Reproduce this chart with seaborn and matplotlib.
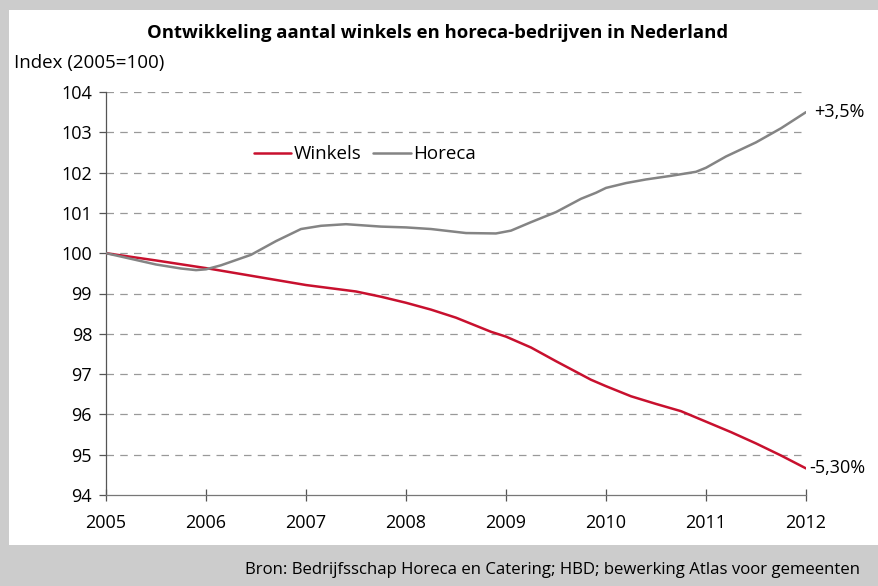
import matplotlib
matplotlib.use("Agg")
import matplotlib.pyplot as plt
from matplotlib.patches import Rectangle
import seaborn as sns
import pandas as pd

sns.set_theme(style="white")
plt.rcParams["font.family"] = ["Open Sans", "DejaVu Sans"]
plt.rcParams["text.color"] = "black"
plt.rcParams["xtick.color"] = "black"
plt.rcParams["ytick.color"] = "black"

# Index series (2005 = 100)
winkels_years = [2005.0, 2005.5, 2006.0, 2006.5, 2007.0, 2007.5, 2007.75, 2008.0,
                 2008.25, 2008.5, 2008.85, 2009.0, 2009.25, 2009.5, 2009.85, 2010.0,
                 2010.25, 2010.5, 2010.75, 2011.0, 2011.25, 2011.5, 2011.75, 2012.0]
winkels = [100.0, 99.82, 99.63, 99.42, 99.21, 99.05, 98.92, 98.77,
           98.60, 98.40, 98.05, 97.93, 97.66, 97.32, 96.86, 96.70,
           96.45, 96.26, 96.08, 95.82, 95.56, 95.28, 94.98, 94.66]

horeca_years = [2005.0, 2005.25, 2005.5, 2005.75, 2005.9, 2006.0, 2006.15, 2006.45,
                2006.7, 2006.95, 2007.15, 2007.4, 2007.75, 2008.0, 2008.25, 2008.6,
                2008.9, 2009.05, 2009.25, 2009.5, 2009.75, 2009.9, 2010.0, 2010.2,
                2010.4, 2010.65, 2010.9, 2011.0, 2011.2, 2011.5, 2011.75, 2012.0]
horeca = [100.0, 99.86, 99.72, 99.62, 99.58, 99.60, 99.70, 99.96,
          100.30, 100.60, 100.68, 100.72, 100.66, 100.64, 100.60, 100.50,
          100.49, 100.56, 100.77, 101.02, 101.35, 101.50, 101.62, 101.74,
          101.83, 101.92, 102.02, 102.12, 102.40, 102.75, 103.10, 103.50]

labels = ["Winkels", "Horeca"]
colors = ["#c8102e", "#848484"]
end_labels = ["-5,30%", "+3,5%"]
x_ticks = [2005, 2006, 2007, 2008, 2009, 2010, 2011, 2012]
y_ticks = [94, 95, 96, 97, 98, 99, 100, 101, 102, 103, 104]

df = pd.concat([
    pd.DataFrame({"jaar": winkels_years, "index": winkels, "reeks": labels[0]}),
    pd.DataFrame({"jaar": horeca_years, "index": horeca, "reeks": labels[1]}),
])

fig = plt.figure(figsize=(8.79, 5.86), dpi=100, facecolor="#cccccc")
# white panel on the grey frame, kept underneath the axes
fig.patches.append(Rectangle((9 / 879, 1 - 545 / 586), 1, (545 - 10) / 586,
                             transform=fig.transFigure, facecolor="white",
                             edgecolor="none", zorder=-5))

ax = fig.add_axes([106 / 879, 1 - 495 / 586, 700 / 879, 403 / 586])
ax.set_facecolor("none")

sns.lineplot(data=df, x="jaar", y="index", hue="reeks", hue_order=labels,
             palette=colors, linewidth=1.8, ax=ax, sort=False, zorder=3)
for line in ax.get_lines():
    line.set_solid_joinstyle("round")

ax.set_xlim(2005, 2012)
ax.set_ylim(94, 104)
ax.set_xticks(x_ticks)
ax.set_xticklabels([str(t) for t in x_ticks])
ax.set_yticks(y_ticks)
ax.set_xlabel("")
ax.set_ylabel("")

for y in y_ticks[1:]:
    ax.axhline(y, color="#999999", linewidth=0.9, linestyle=(0, (6, 5)), zorder=1)

for side in ["top", "right"]:
    ax.spines[side].set_visible(False)
ax.spines["left"].set_color("#555555")
ax.spines["bottom"].set_color("#777777")
ax.spines["left"].set_linewidth(0.9)
ax.spines["bottom"].set_linewidth(0.9)

ax.tick_params(axis="x", direction="inout", length=9, width=0.9, color="#555555",
               labelsize=13, pad=9, bottom=True, labelcolor="black")
ax.tick_params(axis="y", direction="out", length=5, width=0.9, color="#555555",
               labelsize=13, pad=5, left=True, labelcolor="black")

leg = ax.legend(loc="center", bbox_to_anchor=(0.37, 0.845), ncol=2, frameon=False,
                fontsize=13.5, handlelength=2.0, handletextpad=0.15,
                columnspacing=0.6)
for line in leg.get_lines():
    line.set_linewidth(1.8)
for t in leg.get_texts():
    t.set_color("black")

ax.annotate(end_labels[1], xy=(2012, horeca[-1]), xytext=(6, 0),
            textcoords="offset points", va="center", ha="left", fontsize=13)
ax.annotate(end_labels[0], xy=(2012, winkels[-1]), xytext=(2, 0),
            textcoords="offset points", va="center", ha="left", fontsize=13)

fig.text(438 / 879, 1 - 33 / 586, "Ontwikkeling aantal winkels en horeca-bedrijven in Nederland",
         ha="center", va="center", fontsize=13.3, fontweight="bold")
fig.text(14 / 879, 1 - 63 / 586, "Index (2005=100)", ha="left", va="center", fontsize=13.5)
fig.text(245 / 879, 1 - 570 / 586,
         "Bron: Bedrijfsschap Horeca en Catering; HBD; bewerking Atlas voor gemeenten",
         ha="left", va="center", fontsize=12.1)

fig.savefig("out.png", dpi=100, facecolor=fig.get_facecolor())
